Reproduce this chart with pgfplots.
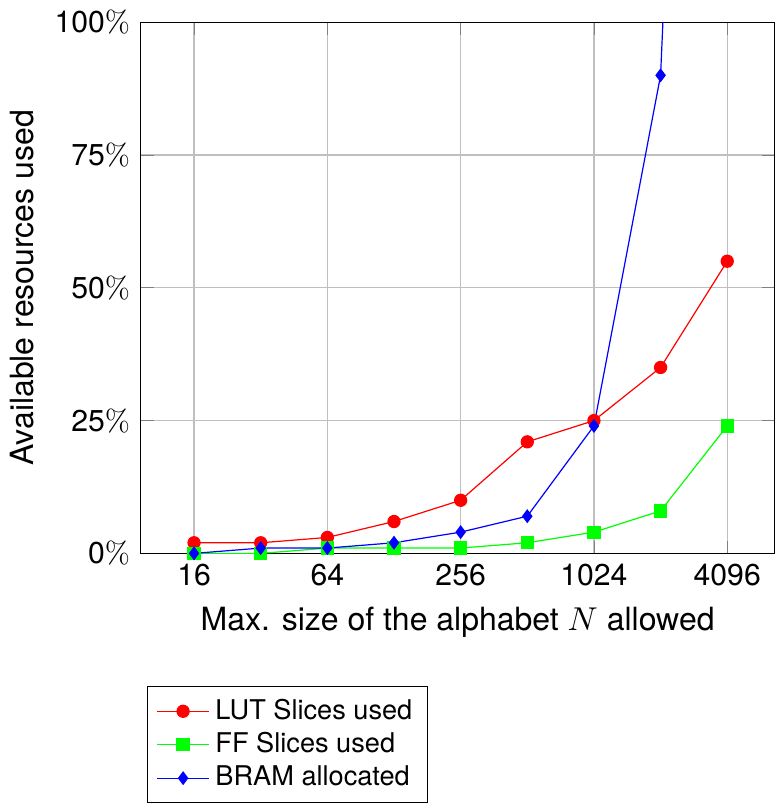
\documentclass[border=0pt]{standalone}
\usepackage[no-math]{fontspec}
\setmainfont{TeX Gyre Heros}
\usepackage{pgfplots}
\pgfplotsset{compat=1.18}
\begin{document}
\begin{tikzpicture}
\begin{axis}[
  scale only axis,
  width=210pt, height=176pt,
  xmode=log, log basis x=2,
  xmin=9.19, xmax=6700,
  ymin=0, ymax=100,
  xtick={16,64,256,1024,4096},
  xticklabels={16,64,256,1024,4096},
  ytick={0,25,50,75,100},
  yticklabels={0$\%$,25$\%$,50$\%$,75$\%$,100$\%$},
  grid=major,
  label style={font=\fontsize{10.6}{12.7}\selectfont},
  xlabel={Max. size of the alphabet $N$ allowed},
  ylabel={Available resources used},
  legend style={at={(0.01,-0.25)}, anchor=north west, font=\fontsize{9}{10.8}\selectfont, cells={anchor=west}, row sep=-1.1pt},
  legend cell align=left,
]
\addplot[color=red, mark=*] coordinates {
(16,2)(32,2)(64,3)(128,6)(256,10)(512,21)(1024,25)(2048,35)(4096,55)};
\addlegendentry{LUT Slices used}
\addplot[color=green, mark=square*] coordinates {
(16,0)(32,0)(64,1)(128,1)(256,1)(512,2)(1024,4)(2048,8)(4096,24)};
\addlegendentry{FF Slices used}
\addplot[color=blue, mark=diamond*] coordinates {
(16,0)(32,1)(64,1)(128,2)(256,4)(512,7)(1024,24)(2048,90)(4096,380)};
\addlegendentry{BRAM allocated}
\end{axis}
\end{tikzpicture}
\end{document}
